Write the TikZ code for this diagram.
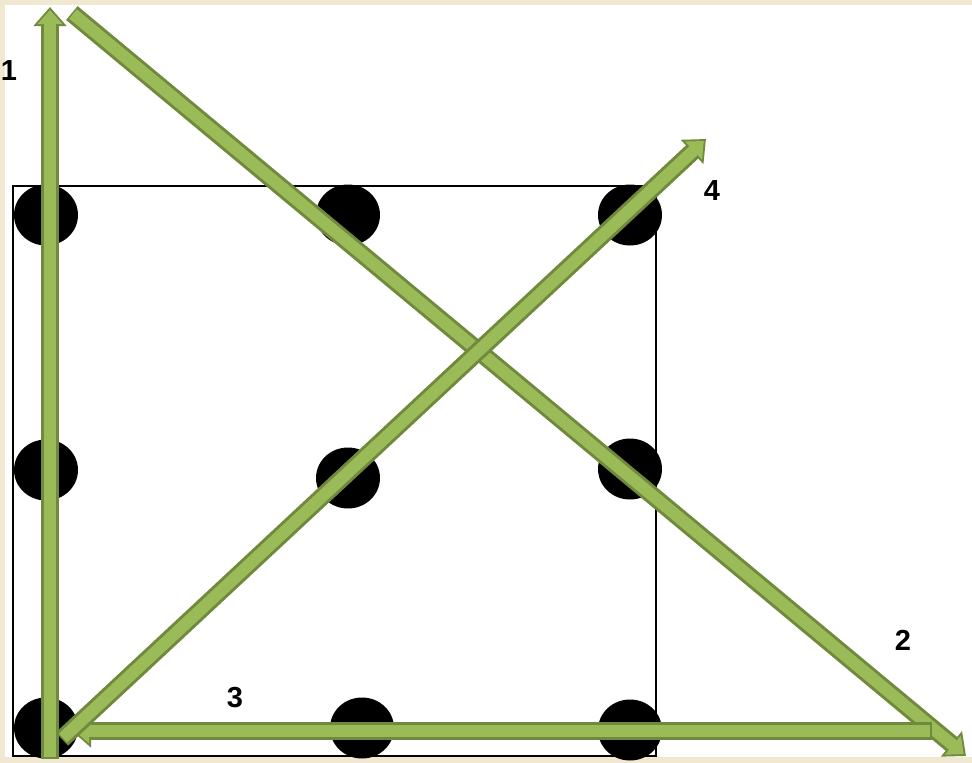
\documentclass[tikz,border=0pt]{standalone}
\usepackage{fontspec}
\setmainfont{Liberation Sans}
\usetikzlibrary{arrows.meta,shapes.geometric}
\definecolor{leaf}{HTML}{9BBB59}
\definecolor{leafrim}{HTML}{6F8A3C}
\definecolor{paper}{HTML}{F1E8D2}
\begin{document}
\begin{tikzpicture}[x=1pt,y=-1pt,line join=miter,
 font=\fontsize{29}{32}\selectfont\bfseries,
 dot/.style={ellipse,fill=black,inner sep=0pt,minimum width=64pt,minimum height=61pt},
 rim/.style={draw=leafrim,line width=18pt,shorten <=-1.5pt,
  -{Triangle[width=32pt,length=19pt]}},
 core/.style={draw=leaf,line width=12pt,shorten >=3pt,
  -{Triangle[width=24pt,length=14pt]}},
 num/.style={inner sep=0pt}]
\useasboundingbox (0,0) rectangle (972,763);
\fill[paper] (0,0) rectangle (972,763);
\fill[white] (5,5) rectangle (972,757);
% the square and its nine points
\draw[line width=2.8pt] (13,186) rectangle (656,756);
\foreach \nm/\px/\py in {p11/46/215,p12/348/215,p13/630/215,
  p21/46/470,p22/348/478,p23/630/469,
  p31/46/728,p32/362/728,p33/630/730}
 \node[dot] (\nm) at (\px,\py) {};
% end points of the four strokes
\coordinate (a1s) at (50,757);
\coordinate (a1e) at (50,7);
\coordinate (a2s) at (73,14);
\coordinate (a2e) at (966,756);
\coordinate (a3s) at (930,731);
\coordinate (a3e) at (72,731);
\coordinate (a4s) at (63,738);
\coordinate (a4e) at (706,139);
\foreach \s/\e in {a1s/a1e,a2s/a2e,a3s/a3e,a4s/a4e}{
 \draw[rim] (\s) -- (\e);
 \draw[core] (\s) -- (\e);
}
\node[num] (n1) at (9,71) {1};
\node[num] (n2) at (903,640) {2};
\node[num] (n3) at (235,698) {3};
\node[num] (n4) at (712,191) {4};
\end{tikzpicture}
\end{document}
